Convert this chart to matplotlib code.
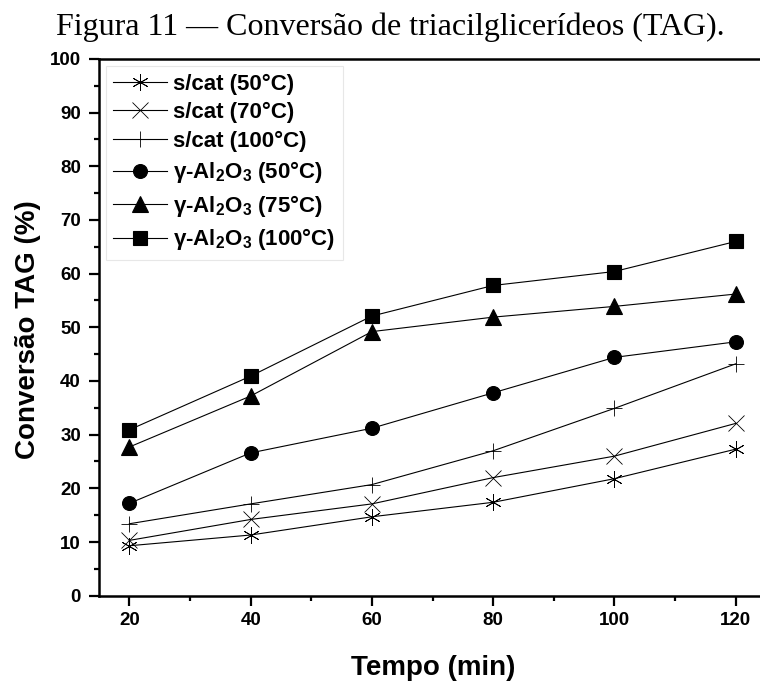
import numpy as np
import matplotlib
matplotlib.use('Agg')
import matplotlib.pyplot as plt
from matplotlib.ticker import MultipleLocator

# data: TAG conversion (%) vs time (min)
tempo = [20, 40, 60, 80, 100, 120]
scat_50 = [9.3, 11.3, 14.7, 17.4, 21.8, 27.3]
scat_70 = [10.3, 14.2, 17.1, 22.0, 26.0, 32.1]
scat_100 = [13.4, 17.1, 20.7, 27.0, 34.9, 43.2]
al2o3_50 = [17.2, 26.6, 31.2, 37.8, 44.4, 47.3]
al2o3_75 = [27.7, 37.2, 49.2, 51.9, 53.9, 56.2]
al2o3_100 = [30.9, 40.9, 52.1, 57.8, 60.4, 66.0]

labels = ['s/cat (50°C)', 's/cat (70°C)', 's/cat (100°C)',
          r'γ-Al$_2$O$_3$ (50°C)', r'γ-Al$_2$O$_3$ (75°C)', r'γ-Al$_2$O$_3$ (100°C)']

plt.rcParams['font.family'] = ['Liberation Sans', 'DejaVu Sans']
plt.rcParams['font.weight'] = 'bold'
plt.rcParams['mathtext.fontset'] = 'custom'
plt.rcParams['mathtext.rm'] = 'Liberation Sans:bold'
plt.rcParams['mathtext.bf'] = 'Liberation Sans:bold'
plt.rcParams['mathtext.it'] = 'Liberation Sans:bold'

fig = plt.figure(figsize=(7.6, 6.81), dpi=100)
ax = fig.add_axes([0.1303, 0.1253, 0.8697, 0.7881])

series = [scat_50, scat_70, scat_100, al2o3_50, al2o3_75, al2o3_100]
markers = [(6, 2, 0), 'x', '+', 'o', '^', 's']
sizes = [12, 11, 12, 10, 11, 9.5]
for y, m, ms, lab in zip(series, markers, sizes, labels):
    filled = m in ('o', '^', 's')
    ax.plot(tempo, y, color='black', lw=0.8, marker=m, markersize=ms,
            markeredgewidth=0.6 if not filled else 0.8,
            markerfacecolor='black', markeredgecolor='black', label=lab)

ax.set_xlim(15, 124)
ax.set_ylim(0, 100)
ax.xaxis.set_major_locator(MultipleLocator(20))
ax.xaxis.set_minor_locator(MultipleLocator(10))
ax.yaxis.set_major_locator(MultipleLocator(10))
ax.yaxis.set_minor_locator(MultipleLocator(5))
ax.tick_params(which='both', direction='out', width=1.6, labelsize=13.5)
ax.tick_params(which='major', length=7)
ax.tick_params(which='minor', length=3.5)
ax.tick_params(axis='x', pad=5)
ax.tick_params(axis='y', pad=6)
for s in ['left', 'bottom', 'top']:
    ax.spines[s].set_linewidth(1.8)
ax.spines['right'].set_visible(False)

ax.set_xlabel('Tempo (min)', fontsize=20, fontweight='bold', va='center')
ax.set_ylabel('Conversão TAG (%)', fontsize=20, fontweight='bold', va='center')
ax.xaxis.set_label_coords(0.505, -0.134)
ax.yaxis.set_label_coords(-0.108, 0.495)

leg = ax.legend(loc='upper left', fontsize=16, handlelength=2.4,
                frameon=True, fancybox=False, borderaxespad=0.3,
                labelspacing=0.34, handletextpad=0.3, borderpad=0.35)
leg.get_frame().set_edgecolor('#e2e2e2')
leg.get_frame().set_linewidth(0.8)

fig.text(0.513, 0.9486, 'Figura 11 — Conversão de triacilglicerídeos (TAG).',
         ha='center', va='baseline', fontsize=23, fontweight='normal',
         family=['Liberation Serif', 'DejaVu Serif'])

fig.savefig('out.png', dpi=100)
